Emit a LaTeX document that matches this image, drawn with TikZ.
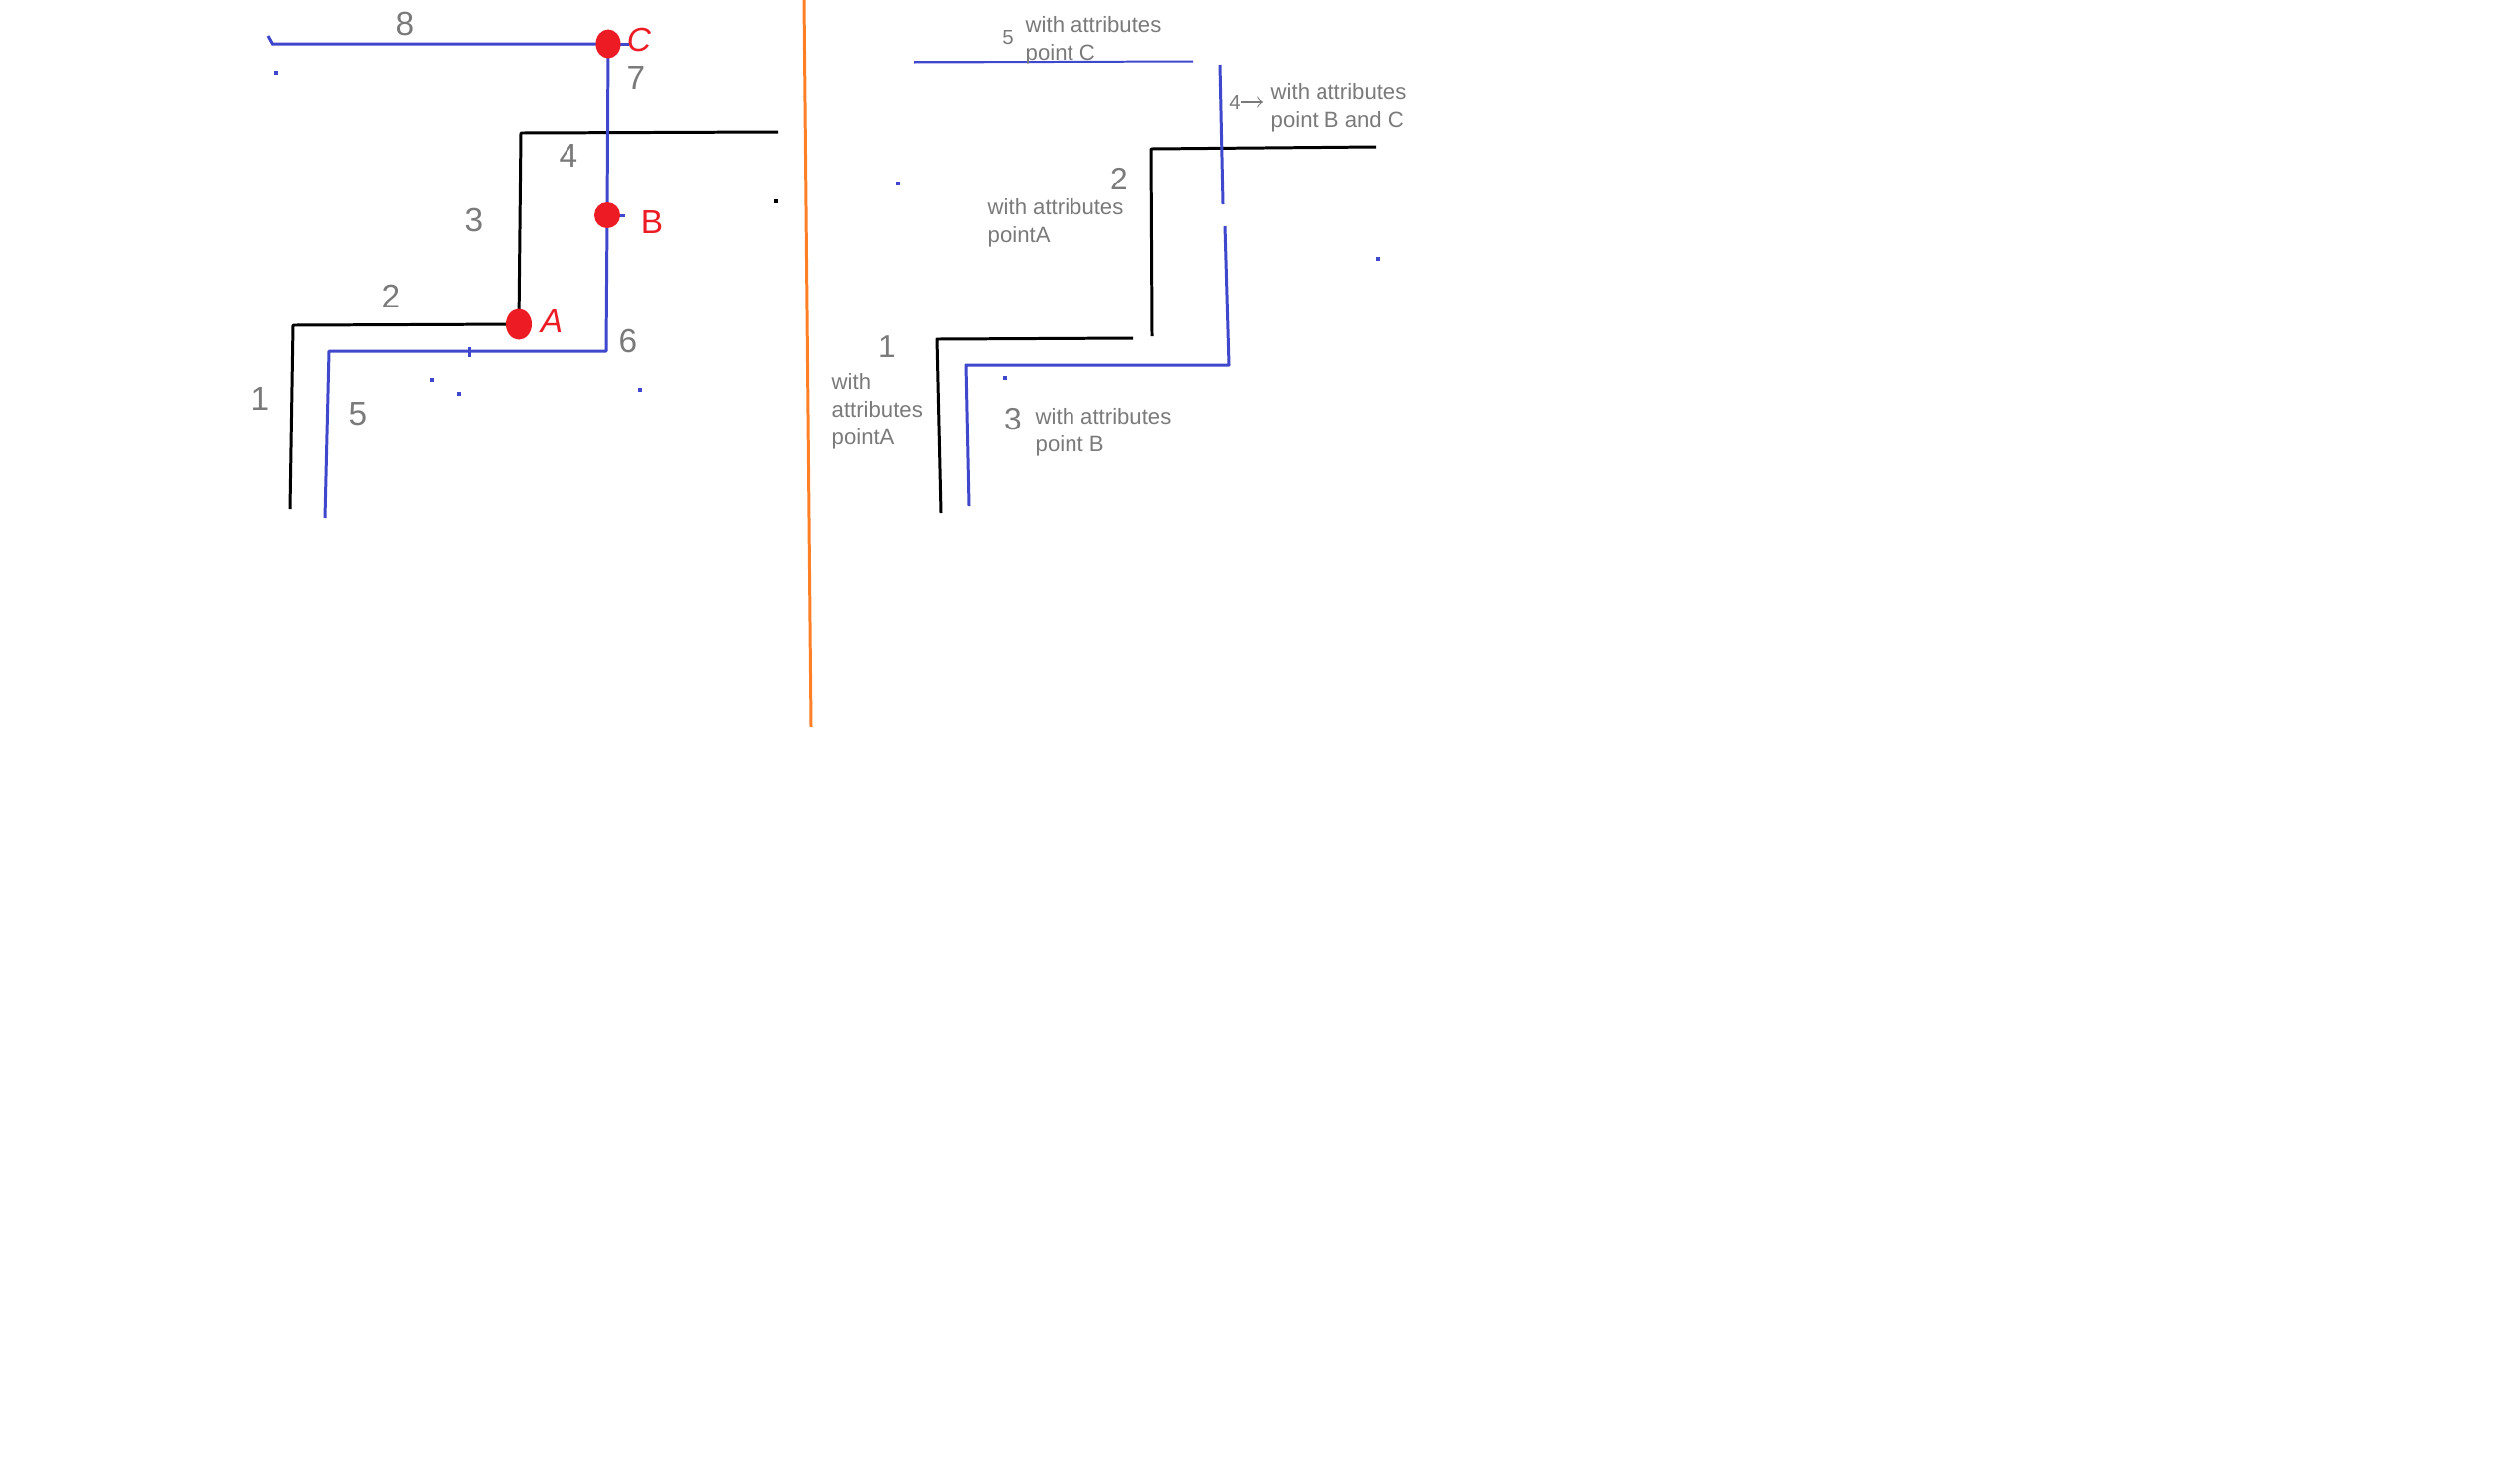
\documentclass[tikz,border=0pt]{standalone}
\usepackage{fontspec}
\setmainfont{Liberation Sans}
\usepackage{xcolor}
\usepackage{tikz}
\usetikzlibrary{arrows, positioning, calc}
\definecolor{paint-blue}{HTML}{3F48CC}
\definecolor{paint-red}{HTML}{ED1C24}
\definecolor{paint-orange}{HTML}{FF7F27}
\definecolor{paint-gray}{HTML}{7A7A7A}

\begin{document}
\begin{tikzpicture}[x=0.01cm, y=-0.01cm,
    pen/.style={line width=0.85pt, line join=round},
    blackpen/.style={pen, black},
    bluepen/.style={pen, paint-blue},
    num/.style={text=paint-gray, inner sep=0pt, font=\fontsize{9.5}{11}\selectfont},
    rnum/.style={num, font=\fontsize{9}{11}\selectfont},
    smallnum/.style={text=paint-gray, inner sep=0pt, font=\fontsize{5.8}{7}\selectfont},
    note/.style={text=paint-gray, inner sep=0pt, anchor=north west, align=left, font=\fontsize{6.3}{7.9}\selectfont},
    ptlabel/.style={text=paint-red, inner sep=0pt, font=\fontsize{9.5}{11}\selectfont}]
    \useasboundingbox (0,0) rectangle (2540,1478);

    % Points
    \coordinate (ptA) at (523,327);
    \coordinate (ptB) at (612,217);
    \coordinate (ptC) at (613,44);

    % Left: black staircase
    \draw[blackpen] (292,513) -- (295,328) -- (ptA) -- (525,134) -- (784,133);

    % Left: blue path through C and B
    \draw[bluepen] (274,44) -- (ptC) -- (ptB) -- (611,354) -- (332,354) -- (328,522);
    \draw[bluepen] (270,36) -- (275,45);
    \draw[bluepen] (473,350) -- (473,360);
    \draw[bluepen] (ptC) -- (634,44);
    \draw[bluepen] (ptB) -- (630,217);

    % Red points
    \fill[paint-red] (ptA) ellipse [x radius=0.13cm, y radius=0.155cm];
    \fill[paint-red] (ptB) ellipse [x radius=0.13cm, y radius=0.13cm];
    \fill[paint-red] (ptC) ellipse [x radius=0.125cm, y radius=0.145cm];
    \node[ptlabel] (labA) at (556,324) {\itshape A};
    \node[ptlabel] (labB) at (657,224) {B};
    \node[ptlabel] (labC) at (644,40) {\itshape C};

    % Left: segment numbers
    \foreach \n/\x/\y in {8/408/24, 7/641/79, 4/573/157, 3/478/222, 2/394/299, 6/633/344, 1/262/402, 5/361/417} {
        \node[num] (lnum\n) at (\x,\y) {\n};
    }

    % Divider
    \draw[pen, paint-orange] (810,0) -- (817,733);

    % Right: black steps
    \draw[blackpen] (1387,148) -- (1160,150) -- (1161,339);
    \draw[blackpen] (1142,341) -- (944,342) -- (948,517);

    % Right: blue steps
    \draw[bluepen] (921,63) -- (1202,62);
    \draw[bluepen] (1230,66) -- (1233,206);
    \draw[bluepen] (1235,228) -- (1239,368) -- (974,368) -- (977,510);

    % Right: numbers and attributes
    \node[smallnum] (rnum5) at (1016,38) {5};
    \node[smallnum] (rnum4) at (1245,103) {4};
    \foreach \n/\x/\y in {2/1128/180, 1/894/350, 3/1021/423} {
        \node[rnum] (rnum\n) at (\x,\y) {\n};
    }
    \node[note] (noteC) at (1033,16) {with attributes\\point C};
    \node[note] (noteBC) at (1280,84) {with attributes\\point B and C};
    \node[note] (noteA) at (995,200) {with attributes\\pointA};
    \node[note] (noteAone) at (838,376) {with\\attributes\\pointA};
    \node[note] (noteB) at (1043,411) {with attributes\\point B};
    \draw[->, paint-gray, line width=0.3pt, shorten >=2pt] (rnum4.east) -- (rnum4.east -| noteBC.west);

    % Stray specks
    \foreach \x/\y in {276/72, 433/381, 461/395, 643/391, 903/183, 1011/379, 1387/259} {
        \fill[paint-blue] (\x,\y) rectangle ++(4,4);
    }
    \fill[black] (780,201) rectangle ++(4,4);
\end{tikzpicture}
\end{document}
